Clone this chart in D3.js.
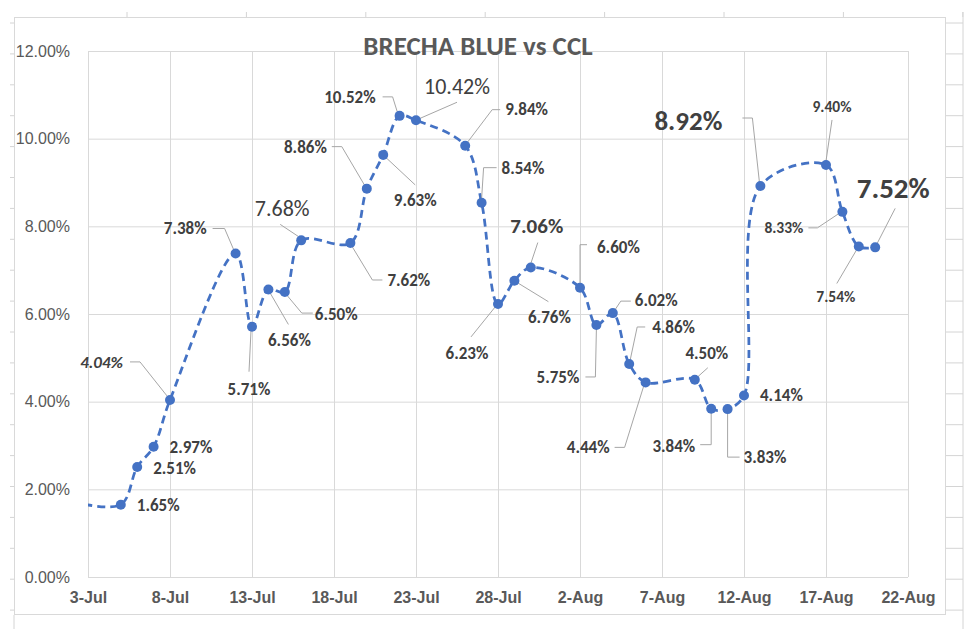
<!DOCTYPE html>
<html>
<head>
<meta charset="utf-8">
<script src="https://cdn.jsdelivr.net/npm/d3@7"></script>
<style>
  body { margin: 0; background: #fff; }
  svg { display: block; font-family: Carlito, Calibri, Lato, sans-serif; }
  .grid line { stroke: #d9d9d9; stroke-width: 1; }
  .grid .domain { display: none; }
  .ylab text { fill: #595959; font-size: 16px; }
  .xlab text { fill: #595959; font-size: 16px; font-weight: bold; }
  .lbl { fill: #404040; font-size: 17px; font-weight: bold; }
  .leader { fill: none; stroke: #a6a6a6; stroke-width: 1; }
</style>
</head>
<body>
<div id="chart"></div>
<script>
// series: Brecha blue vs CCL (percent)
const dates = ["2021-07-02", "2021-07-05", "2021-07-06", "2021-07-07", "2021-07-08",
  "2021-07-12", "2021-07-13", "2021-07-14", "2021-07-15", "2021-07-16",
  "2021-07-19", "2021-07-20", "2021-07-21", "2021-07-22", "2021-07-23",
  "2021-07-26", "2021-07-27", "2021-07-28", "2021-07-29", "2021-07-30",
  "2021-08-02", "2021-08-03", "2021-08-04", "2021-08-05", "2021-08-06",
  "2021-08-09", "2021-08-10", "2021-08-11", "2021-08-12", "2021-08-13",
  "2021-08-17", "2021-08-18", "2021-08-19", "2021-08-20"];
const values = [1.72, 1.65, 2.51, 2.97, 4.04,
  7.38, 5.71, 6.56, 6.50, 7.68,
  7.62, 8.86, 9.63, 10.52, 10.42,
  9.84, 8.54, 6.23, 6.76, 7.06,
  6.60, 5.75, 6.02, 4.86, 4.44,
  4.50, 3.84, 3.83, 4.14, 8.92,
  9.40, 8.33, 7.54, 7.52];

const yTicks = [0, 2, 4, 6, 8, 10, 12];
const xTicks = ["2021-07-03", "2021-07-08", "2021-07-13", "2021-07-18", "2021-07-23",
  "2021-07-28", "2021-08-02", "2021-08-07", "2021-08-12", "2021-08-17", "2021-08-22"];
const title = "BRECHA BLUE vs CCL";

// label layout, keyed by index in the series (offsets from the marker, px)
// [index, dx, dy, anchor, style, leader points]
const labelLayout = [
  [1, 16, 0, "start", "", null],
  [2, 16, 1, "start", "", null],
  [3, 16, 0, "start", "", null],
  [4, -47, -38, "end", "it", [[-40, -38], [-30, -38], [-3, -4]]],
  [5, -29, -25, "end", "", [[-23, -25], [-11, -25], [-2, -4]]],
  [6, -3, 62, "middle", "", [[-3, 45], [-1, 4]]],
  [7, 21, 51, "middle", "", [[20, 35], [2, 4]]],
  [8, 30, 22, "start", "", [[28, 21], [17, 21], [2, 3]]],
  [9, -19, -32, "middle", "big", [[-21, -16], [-3, -4]]],
  [10, 37, 37, "start", "", [[32, 37], [22, 37], [2, 4]]],
  [11, -40, -42, "end", "", [[-35, -42], [-25, -42], [-2, -3]]],
  [12, 32, 45, "middle", "", [[32, 30], [2, 2]]],
  [13, -24, -19, "end", "", [[-17, -19], [-7, -19], [-2, -3]]],
  [14, 41, -34, "middle", "big", [[41, -18], [2, -1]]],
  [15, 40, -37, "start", "", [[35, -36], [27, -36], [2, -3]]],
  [16, 20, -35, "start", "", [[15, -35], [2, -35], [0, -4]]],
  [17, -31, 49, "middle", "", [[-27, 33], [-2, 2]]],
  [18, 35, 36, "middle", "", [[34, 21], [3, 2]]],
  [19, 6, -42, "middle", "bigb", [[7, -25], [0, -4]]],
  [20, 17, -41, "start", "", [[7, -43], [0, -43], [0, -4]]],
  [21, -17, 52, "end", "", [[-11, 52], [-1, 52], [0, 4]]],
  [22, 22, -13, "start", "", [[18, -12], [8, -12], [2, -3]]],
  [23, 23, -37, "start", "", [[16, -37], [8, -37], [1, -4]]],
  [24, -36, 65, "end", "", [[-31, 65], [-21, 65], [-2, 4]]],
  [25, 12, -27, "middle", "", [[13, -12], [3, -3]]],
  [26, -16, 37, "end", "", [[-11, 36], [0, 36], [0, 4]]],
  [27, 16, 48, "start", "", [[12, 48], [0, 48], [0, 4]]],
  [28, 16, 0, "start", "", null],
  [29, -72, -65, "middle", "huge", [[-18, -68], [-8, -68], [-1, -4]]],
  [30, 6, -58, "middle", "sm", [[6, -45], [0, -4]]],
  [31, -39, 16, "end", "sm", [[-34, 16], [-25, 16], [-4, 2]]],
  [32, -23, 50, "middle", "sm", [[-22, 37], [-2, 3]]],
  [33, 18, -60, "middle", "huge2", [[20, -39], [2, -4]]]
];

const W = 980, H = 629;
const margin = { top: 51, left: 88, right: 72, bottom: 52 };
const width = W - margin.left - margin.right;
const height = H - margin.top - margin.bottom;
const parse = d3.timeParse("%Y-%m-%d");

const data = dates.map((d, i) => ({ date: parse(d), value: values[i] }));

const svg = d3.select("#chart").append("svg").attr("width", W).attr("height", H);

// spreadsheet cells peeking around the chart object
const deco = svg.append("g").attr("stroke", "#d4d4d4").attr("stroke-width", 1);
d3.range(127, 964, 119.4).forEach((cx) => {
  deco.append("line").attr("x1", cx).attr("x2", cx).attr("y1", 12).attr("y2", 17);
});
d3.range(23, 629, 30.9).forEach((cy) => {
  deco.append("line").attr("x1", 946).attr("x2", 963).attr("y1", cy).attr("y2", cy);
  deco.append("line").attr("x1", 10).attr("x2", 14).attr("y1", cy).attr("y2", cy);
});
deco.append("line").attr("x1", 963).attr("x2", 963).attr("y1", 12).attr("y2", 629);
deco.append("line").attr("x1", 14).attr("x2", 14).attr("y1", 615).attr("y2", 629);

// chart area border
svg.append("rect").attr("x", 14.5).attr("y", 17.5).attr("width", 931).attr("height", 597)
  .attr("fill", "#fff").attr("stroke", "#d9d9d9");

const g = svg.append("g").attr("transform", `translate(${margin.left},${margin.top})`);

const x = d3.scaleTime().domain([parse(xTicks[0]), parse(xTicks[xTicks.length - 1])]).range([0, width]);
const y = d3.scaleLinear().domain([0, 12]).range([height, 0]);

// gridlines
g.append("g").attr("class", "grid")
  .call(d3.axisLeft(y).tickValues(yTicks).tickSize(-width).tickFormat(""));
g.append("g").attr("class", "grid")
  .attr("transform", `translate(0,${height})`)
  .call(d3.axisBottom(x).tickValues(xTicks.map(parse)).tickSize(-height).tickFormat(""));

// axis labels
g.append("g").attr("class", "ylab")
  .call(d3.axisLeft(y).tickValues(yTicks).tickSize(0).tickPadding(18).tickFormat((d) => d.toFixed(2) + "%"))
  .call((a) => a.select(".domain").remove());
g.append("g").attr("class", "xlab")
  .attr("transform", `translate(0,${height})`)
  .call(d3.axisBottom(x).tickValues(xTicks.map(parse)).tickSize(0).tickPadding(15).tickFormat(d3.timeFormat("%-d-%b")))
  .call((a) => a.select(".domain").remove());

// title
svg.append("text").attr("x", 478).attr("y", 55).attr("text-anchor", "middle")
  .attr("fill", "#595959").style("font-size", "27px").style("font-weight", "bold")
  .text(title);

// line
svg.append("defs").append("clipPath").attr("id", "clip")
  .append("rect").attr("width", width).attr("height", height + 20).attr("y", -20);

const line = d3.line()
  .x((d) => x(d.date))
  .y((d) => y(d.value))
  .curve(d3.curveCatmullRom.alpha(0.5));

g.append("path").datum(data)
  .attr("clip-path", "url(#clip)")
  .attr("d", line)
  .attr("fill", "none")
  .attr("stroke", "#4472C4")
  .attr("stroke-width", 2.75)
  .attr("stroke-dasharray", "8,5");

// leader lines
labelLayout.forEach(([i, dx, dy, anchor, st, pts]) => {
  if (!pts) return;
  const px = x(data[i].date), py = y(data[i].value);
  g.append("path").attr("class", "leader")
    .attr("d", d3.line()(pts.map((p) => [px + p[0], py + p[1]])));
});

// markers
g.selectAll(".dot").data(data.slice(1)).enter().append("circle")
  .attr("class", "dot")
  .attr("cx", (d) => x(d.date))
  .attr("cy", (d) => y(d.value))
  .attr("r", 5)
  .attr("fill", "#4472C4");

// data labels
const styles = {
  "": { size: 17, weight: "bold" },
  it: { size: 17, weight: "bold", italic: true },
  sm: { size: 15.5, weight: "bold" },
  big: { size: 22, weight: "normal" },
  bigb: { size: 21, weight: "bold" },
  huge: { size: 27, weight: "bold" },
  huge2: { size: 29, weight: "bold" }
};
labelLayout.forEach(([i, dx, dy, anchor, st]) => {
  const s = styles[st];
  g.append("text").attr("class", "lbl")
    .attr("x", x(data[i].date) + dx)
    .attr("y", y(data[i].value) + dy)
    .attr("dy", "0.35em")
    .attr("text-anchor", anchor)
    .style("font-size", s.size + "px")
    .style("font-weight", s.weight)
    .style("font-style", s.italic ? "italic" : "normal")
    .text(data[i].value.toFixed(2) + "%");
});
</script>
</body>
</html>
